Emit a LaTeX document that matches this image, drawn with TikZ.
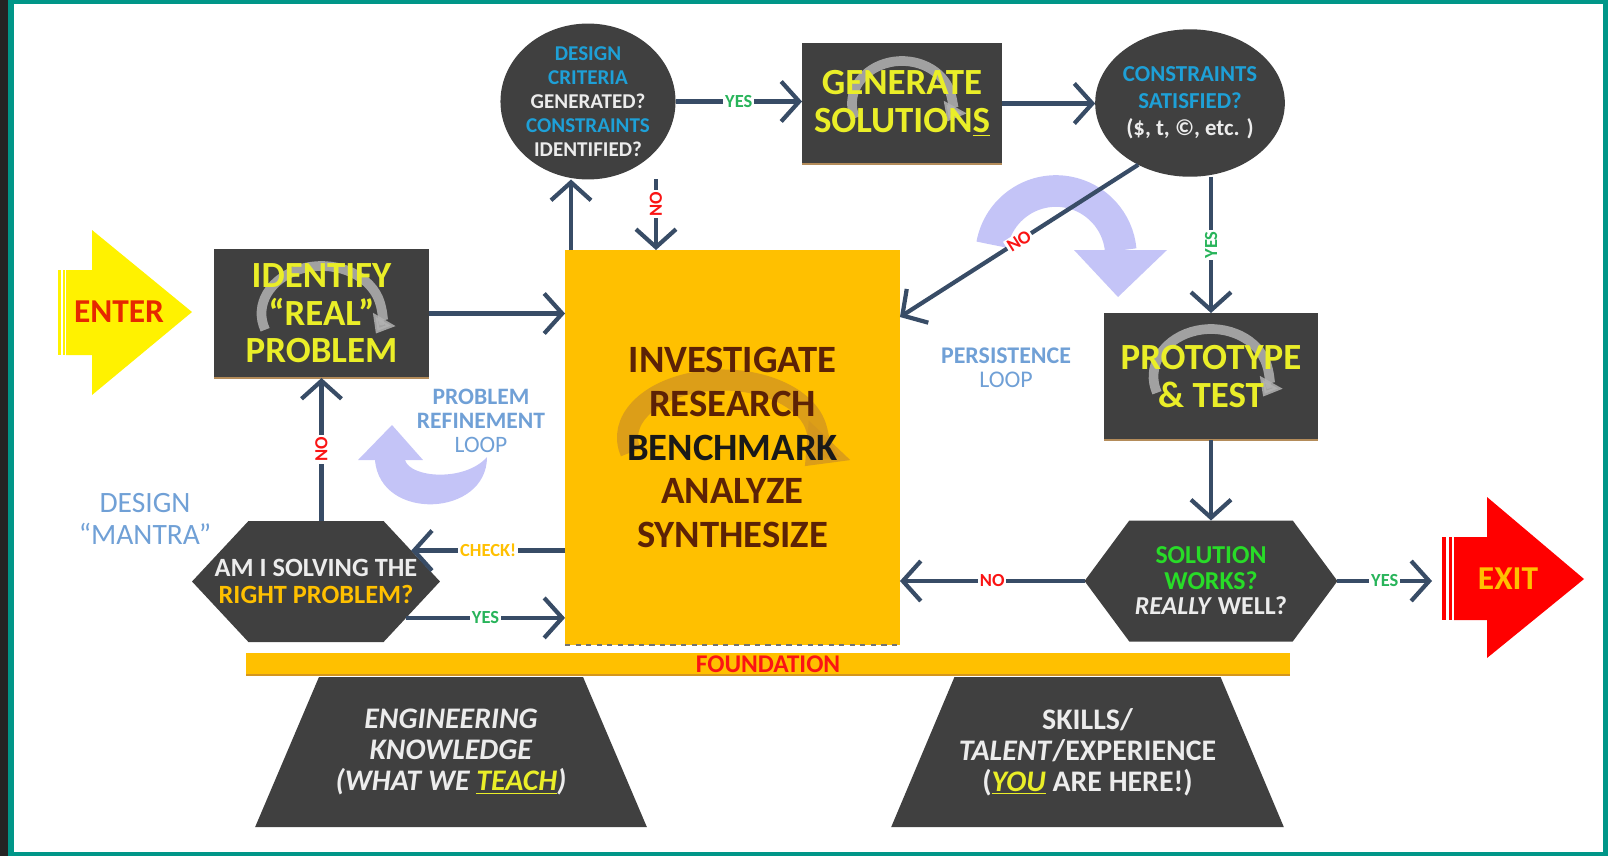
\documentclass[tikz,border=0pt]{standalone}
\usepackage{fontspec}
\setmainfont{Carlito}
\usepackage{xcolor}
\usepackage{tikz}
\usetikzlibrary{positioning,shapes.geometric,shapes.symbols,arrows.meta,calc,backgrounds}

\definecolor{boxgray}{RGB}{64,64,64}
\definecolor{arrowblue}{RGB}{56,76,102}
\definecolor{gold}{RGB}{255,192,0}
\definecolor{boxyellow}{RGB}{234,238,40}
\definecolor{critblue}{RGB}{30,160,215}
\definecolor{paleblue}{RGB}{112,160,214}
\definecolor{lavender}{RGB}{196,196,247}
\definecolor{yesgreen}{RGB}{40,180,90}
\definecolor{okgreen}{RGB}{40,220,40}
\definecolor{nored}{RGB}{250,20,20}
\definecolor{enterred}{RGB}{230,40,0}
\definecolor{frameteal}{RGB}{0,150,136}
\definecolor{framedark}{RGB}{36,36,36}
\definecolor{invbrown}{RGB}{92,34,6}
\definecolor{ringgold}{RGB}{212,150,30}
\definecolor{softwhite}{RGB}{236,236,236}
\definecolor{tanline}{RGB}{180,140,90}

\newcommand{\fsz}[2]{\fontsize{#1}{#2}\selectfont}

\begin{document}
\begin{tikzpicture}[
    x=0.02cm, y=-0.02cm,
    every node/.style={inner sep=0pt, outer sep=0pt},
    dark/.style  = {fill=boxgray, align=center, text=boxyellow,
                    font=\fsz{21}{21.4}\bfseries},
    dbox/.style  = {dark, rectangle, minimum width=4.28cm, minimum height=2.56cm},
    oval/.style  = {dark, ellipse},
    hexa/.style  = {dark, signal, signal to=west and east, minimum height=2.42cm,
                    inner xsep=-1cm},
    foot/.style  = {dark, trapezium, trapezium stretches=true, minimum height=3cm,
                    text=softwhite, font=\fsz{17}{17.6}\bfseries},
    ar/.style    = {draw=arrowblue, line width=2.4pt,
                    -{Straight Barb[length=3.6mm, width=8mm]}},
    lab/.style   = {fill=white, inner sep=1pt, font=\fsz{10.5}{11}\bfseries},
    note/.style  = {text=paleblue, align=center},
    swirl/.style = {fill=lavender, draw=none},
    ring/.style  = {draw=black!30, line width=5.5pt, opacity=.85,
                    -{Triangle[length=0pt 1.7, width=0pt 2.6]}},
    loopring/.style 2 args = {path picture={
        \draw[ring] ($(path picture bounding box.center)+(200:#1 and #2)$)
          arc[start angle=200, end angle=-25, x radius=#1, y radius=#2];}},
    invring/.style = {path picture={
        \draw[ring, draw=ringgold, line width=12pt, opacity=.8]
          ($(path picture bounding box.center)+(-0.2cm,0.2cm)+(195:1.9cm and 1.15cm)$)
          arc[start angle=195, end angle=-30, x radius=1.9cm, y radius=1.15cm];}},
]
\useasboundingbox (0,0) rectangle (1608,856);

%--- frame
\fill[framedark] (0,0) rectangle (7.5,856);
\fill[frameteal] (7.5,0) rectangle (13.5,856);
\fill[frameteal] (7.5,0) rectangle (1608,4);
\fill[frameteal] (1603,0) rectangle (1608,856);
\fill[frameteal] (7.5,852) rectangle (1608,856);

%--- top row
\node[oval, minimum width=3.1cm, minimum height=2.9cm, text=softwhite,
      font=\fsz{12}{13.7}\bfseries] (crit) at (588,101.5)
  {\textcolor{critblue}{DESIGN}\\ \textcolor{critblue}{CRITERIA}\\ GENERATED?\\
   \textcolor{critblue}{CONSTRAINTS}\\ IDENTIFIED?};
\node[dbox, minimum width=4cm, minimum height=2.42cm, loopring={1cm}{0.85cm}] (gen)
  at (902,103.5) {GENERATE\\ SOLUTION\underline{S}};
\node[oval, minimum width=3.35cm, minimum height=2.95cm, text=critblue,
      font=\fsz{13}{15.5}\bfseries] (cons) at (1190,103)
  {CONSTRAINTS\\ SATISFIED?\\ \textcolor{softwhite}{(\$, t, ©, etc. )}};

%--- middle row
\node[dbox, minimum width=4.3cm, minimum height=2.58cm, loopring={1.2cm}{0.95cm}] (ident)
  at (321.5,313.5) {IDENTIFY\\ “REAL”\\ PROBLEM};
\node[rectangle, fill=gold, minimum width=6.7cm, minimum height=7.9cm, align=center,
      text=invbrown, font=\fsz{22}{24.9}\bfseries, invring] (inv) at (732.5,447.5)
  {INVESTIGATE\\ RESEARCH\\ \textcolor{black!90}{BENCHMARK}\\ ANALYZE\\ SYNTHESIZE};
\node[dbox, minimum height=2.54cm, loopring={1.15cm}{0.95cm}] (proto) at (1211,376.5)
  {PROTOTYPE\\ \& TEST};

%--- decisions
\node[hexa, minimum width=4.96cm, signal pointer angle=94, text=softwhite,
      font=\fsz{15}{15.4}\bfseries] (mantra) at (316,581.5)
  {AM I SOLVING THE\\ \textcolor{gold}{RIGHT PROBLEM?}};
\node[hexa, minimum width=5.06cm, signal pointer angle=107, text=okgreen,
      font=\fsz{14.7}{14.5}\bfseries] (solve) at (1211,581)
  {SOLUTION\\ WORKS?\\ \textcolor{softwhite}{\textit{REALLY} WELL?}};

\draw[tanline, line width=1.2pt] (ident.south west) -- (ident.south east);
\draw[tanline, line width=1.2pt] (gen.south west) -- (gen.south east);
\draw[tanline, line width=1.2pt] (proto.south west) -- (proto.south east);
\draw[black!55, dashed, line width=1.2pt] (inv.south west) -- (inv.south east);

%--- foundation and pillars
\node[rectangle, fill=gold, minimum width=20.88cm, minimum height=0.44cm, text=nored,
      font=\fsz{14.5}{15}\bfseries] (base) at (768,664) {FOUNDATION};
\draw[ringgold, line width=1pt] (base.south west) -- (base.south east);
\node[foot, minimum width=7.84cm, trapezium left angle=57, trapezium right angle=57]
  (know) at (451,752)
  {\textit{ENGINEERING}\\ \textit{KNOWLEDGE}\\
   \textit{(WHAT WE \textcolor{boxyellow}{\underline{TEACH}})}};
\node[foot, minimum width=7.86cm, trapezium left angle=55, trapezium right angle=55]
  (skill) at (1087.5,752)
  {SKILLS/\\ \textit{TALENT}/EXPERIENCE\\
   (\textcolor{boxyellow}{\underline{\textit{YOU}}} ARE HERE!)};

%--- enter / exit
\fill[yellow] (66,270) -- (92,270) -- (92,230) -- (192,312) -- (92,395) -- (92,355)
  -- (66,355) -- cycle;
\fill[yellow] (58,270) rectangle (60.5,355);
\fill[yellow] (62.5,270) rectangle (64.5,355);
\node[font=\fsz{19}{19}\bfseries, text=enterred] (enter) at (119,312) {ENTER};

\fill[red] (1454,537) -- (1487,537) -- (1487,497) -- (1584,579) -- (1487,658)
  -- (1487,620) -- (1454,620) -- cycle;
\fill[red] (1442,537) rectangle (1446,620);
\fill[red] (1448.5,537) rectangle (1451.5,620);
\node[font=\fsz{19}{19}\bfseries, text=gold] (exit) at (1508,579) {EXIT};
\coordinate (exittail) at (1432,581);

%--- loop notes
\node[note, font=\fsz{16.8}{18}] (mantranote) at (145,519) {DESIGN\\ “MANTRA”};
\node[note, font=\fsz{13.4}{13.7}] (refine) at (481,421)
  {\textbf{PROBLEM}\\ \textbf{REFINEMENT}\\ LOOP};
\node[note, font=\fsz{13.6}{13.7}] (persist) at (1006,368) {\textbf{PERSISTENCE}\\ LOOP};

\fill[swirl] (487,457) .. controls (487,517) and (380,522) .. (375,460)
  -- (358,460) -- (392,425) -- (423,460) -- (405,460)
  .. controls (410,478) and (465,482) .. (487,457) -- cycle;
\draw[lavender, line width=18pt] ([shift={(170:1.3cm)}]1056,256)
  arc[start angle=170, end angle=5, radius=1.3cm];
\fill[swirl] (1074,250) -- (1167,250) -- (1118,297) -- cycle;

%--- connectors
\draw[ar] (ident.east) -- (ident.east -| inv.west);
\draw[ar] ([xshift=-0.34cm]crit.south |- inv.north) -- ([xshift=-0.34cm]crit.south);
\draw[ar] ([xshift=1.36cm]crit.south) -- node[lab, text=nored, rotate=90, pos=.35] (critno) {NO}
  ([xshift=1.36cm]crit.south |- inv.north);
\draw[ar] (crit.east) -- node[lab, text=yesgreen] (crityes) {YES} (crit.east -| gen.west);
\draw[ar] (gen.east) -- (gen.east -| cons.west);
\draw[ar] (cons.-130) -- node[lab, text=nored, sloped] (consno) {NO}
  ([yshift=-1.34cm]inv.north east);
\draw[ar] (cons.south -| proto.north) -- node[lab, text=yesgreen, rotate=90] (consyes) {YES}
  (proto.north);
\draw[ar] (proto.south) -- (solve.north);
\draw[ar] (solve.west) -- node[lab, text=nored] (solveno) {NO} (solve.west -| inv.east);
\draw[ar] (solve.east) -- node[lab, text=yesgreen] (solveyes) {YES} (exittail);
\draw[ar] (inv.west |- mantra.18) -- node[lab, text=gold] (check) {CHECK!} (mantra.18);
\draw[ar] (mantra.-22) -- node[lab, text=yesgreen] (mantrayes) {YES}
  (mantra.-22 -| inv.west);
\draw[ar] (mantra.north -| ident.south) -- node[lab, text=nored, rotate=90] (mantrano) {NO}
  (ident.south);

\end{tikzpicture}
\end{document}
